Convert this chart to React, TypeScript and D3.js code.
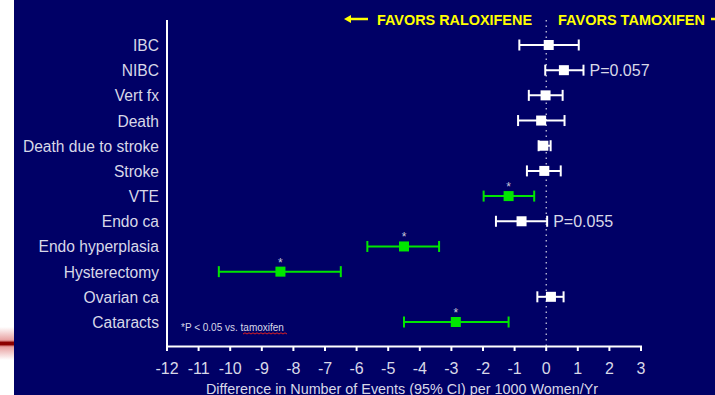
import React from "react";
import * as d3 from "d3";

// Outcomes, top to bottom
const categories = [
  "IBC",
  "NIBC",
  "Vert fx",
  "Death",
  "Death due to stroke",
  "Stroke",
  "VTE",
  "Endo ca",
  "Endo hyperplasia",
  "Hysterectomy",
  "Ovarian ca",
  "Cataracts",
];
// Point estimate and 95% CI (events per 1000 women/yr)
const estimates = [0.08, 0.56, -0.02, -0.16, -0.09, -0.06, -1.19, -0.78, -4.5, -8.41, 0.15, -2.86];
const lowerCI = [-0.85, -0.03, -0.55, -0.89, -0.24, -0.61, -1.98, -1.59, -5.66, -10.36, -0.28, -4.5];
const upperCI = [1.03, 1.18, 0.52, 0.58, 0.14, 0.46, -0.38, 0.03, -3.39, -6.5, 0.55, -1.19];
const significant = [false, false, false, false, false, false, true, false, true, true, false, true];
const pLabels = ["", "P=0.057", "", "", "", "", "", "P=0.055", "", "", "", ""];
const xTicks = [-12, -11, -10, -9, -8, -7, -6, -5, -4, -3, -2, -1, 0, 1, 2, 3];

const W = 715;
const H = 395;
const NAVY = "#000066";
const TEXT = "#d8d8e8";
const GREEN = "#00e600";
const YELLOW = "#ffff00";
const FONT = "'Liberation Sans', Arial, sans-serif";

export default function App() {
  const x = d3.scaleLinear().domain([-12, 3]).range([167, 641]);
  const y = d3
    .scalePoint<string>()
    .domain(categories)
    .range([45, 322]);
  const axisY = 346.5;
  const top = 20;

  const fmt = (v: number) => (v < 0 ? "-" + Math.abs(v) : String(v));

  // spellcheck-style wavy underline
  const wave = (x0: number, x1: number, yy: number) => {
    let d = `M${x0},${yy}`;
    let up = true;
    for (let xx = x0 + 2; xx <= x1; xx += 2) {
      d += ` L${xx},${yy + (up ? -1.2 : 0)}`;
      up = !up;
    }
    return d;
  };

  return (
    <svg
      width={W}
      height={H}
      style={{ position: "fixed", left: 0, top: 0, display: "block" }}
    >
      <defs>
        <linearGradient id="redfade" x1="0" y1="0" x2="0" y2="1">
          <stop offset="0" stopColor="#ffffff" />
          <stop offset="0.4" stopColor="#e8a0a0" />
          <stop offset="0.47" stopColor="#8b0000" />
          <stop offset="0.53" stopColor="#8b0000" />
          <stop offset="0.6" stopColor="#e8a0a0" />
          <stop offset="1" stopColor="#ffffff" />
        </linearGradient>
      </defs>
      <rect x={0} y={0} width={W} height={H} fill="#ffffff" />
      <rect x={0} y={327} width={14} height={33} fill="url(#redfade)" />
      <rect x={14} y={0} width={W - 14} height={H} fill={NAVY} />

      {/* header */}
      <g fill={YELLOW} fontFamily={FONT} fontWeight="bold" fontSize={14}>
        <line x1={348} x2={368} y1={19} y2={19} stroke={YELLOW} strokeWidth={2.5} />
        <path d="M344,19 L351,15 L351,23 Z" />
        <text x={377} y={24.5} textLength={155} lengthAdjust="spacingAndGlyphs">
          FAVORS RALOXIFENE
        </text>
        <text x={558} y={24.5} textLength={147} lengthAdjust="spacingAndGlyphs">
          FAVORS TAMOXIFEN
        </text>
        <line x1={711} x2={730} y1={19} y2={19} stroke={YELLOW} strokeWidth={2.5} />
      </g>

      {/* zero reference */}
      <line
        x1={x(0)}
        x2={x(0)}
        y1={top}
        y2={axisY}
        stroke="#ffffff"
        strokeWidth={1}
        strokeDasharray="1.5 4"
      />

      {/* axes */}
      <line x1={167} x2={167} y1={top} y2={axisY + 1} stroke="#ffffff" strokeWidth={2} />
      <line x1={166} x2={x(3) + 1} y1={axisY} y2={axisY} stroke="#ffffff" strokeWidth={2} />
      {xTicks.map((t) => (
        <g key={t}>
          <line x1={x(t)} x2={x(t)} y1={axisY} y2={axisY + 4.5} stroke="#ffffff" strokeWidth={2} />
          <text
            x={x(t)}
            y={374}
            fill={TEXT}
            fontFamily={FONT}
            fontSize={16}
            textAnchor="middle"
          >
            {fmt(t)}
          </text>
        </g>
      ))}
      <text
        x={206}
        y={394}
        fill={TEXT}
        fontFamily={FONT}
        fontSize={14.5}
        textLength={392}
        lengthAdjust="spacingAndGlyphs"
      >
        Difference in Number of Events (95% CI) per 1000 Women/Yr
      </text>

      {/* category labels */}
      {categories.map((c) => (
        <text
          key={c}
          x={159}
          y={(y(c) as number) + 6}
          fill={TEXT}
          fontFamily={FONT}
          fontSize={15.6}
          textAnchor="end"
        >
          {c}
        </text>
      ))}

      {/* estimates with 95% CI */}
      {categories.map((c, i) => {
        const cy = y(c) as number;
        const col = significant[i] ? GREEN : "#ffffff";
        const x0 = x(lowerCI[i]);
        const x1 = x(upperCI[i]);
        const xm = x(estimates[i]);
        return (
          <g key={c}>
            <line x1={x0} x2={x1} y1={cy} y2={cy} stroke={col} strokeWidth={2} />
            <line x1={x0} x2={x0} y1={cy - 5.5} y2={cy + 5.5} stroke={col} strokeWidth={2} />
            <line x1={x1} x2={x1} y1={cy - 5.5} y2={cy + 5.5} stroke={col} strokeWidth={2} />
            <rect x={xm - 5} y={cy - 5} width={10} height={10} fill={col} />
            {significant[i] && (
              <text
                x={xm}
                y={cy - 5}
                fill="#c8c8d8"
                fontFamily={FONT}
                fontSize={12}
                textAnchor="middle"
              >
                *
              </text>
            )}
            {pLabels[i] && (
              <text x={x1 + 6} y={cy + 6} fill={TEXT} fontFamily={FONT} fontSize={16}>
                {pLabels[i]}
              </text>
            )}
          </g>
        );
      })}

      {/* footnote */}
      <text x={181} y={331} fill={TEXT} fontFamily={FONT} fontSize={10}>
        *P &lt; 0.05 vs. tamoxifen
      </text>
      <path d={wave(243, 287, 334)} fill="none" stroke="#e02020" strokeWidth={1} />
    </svg>
  );
}
